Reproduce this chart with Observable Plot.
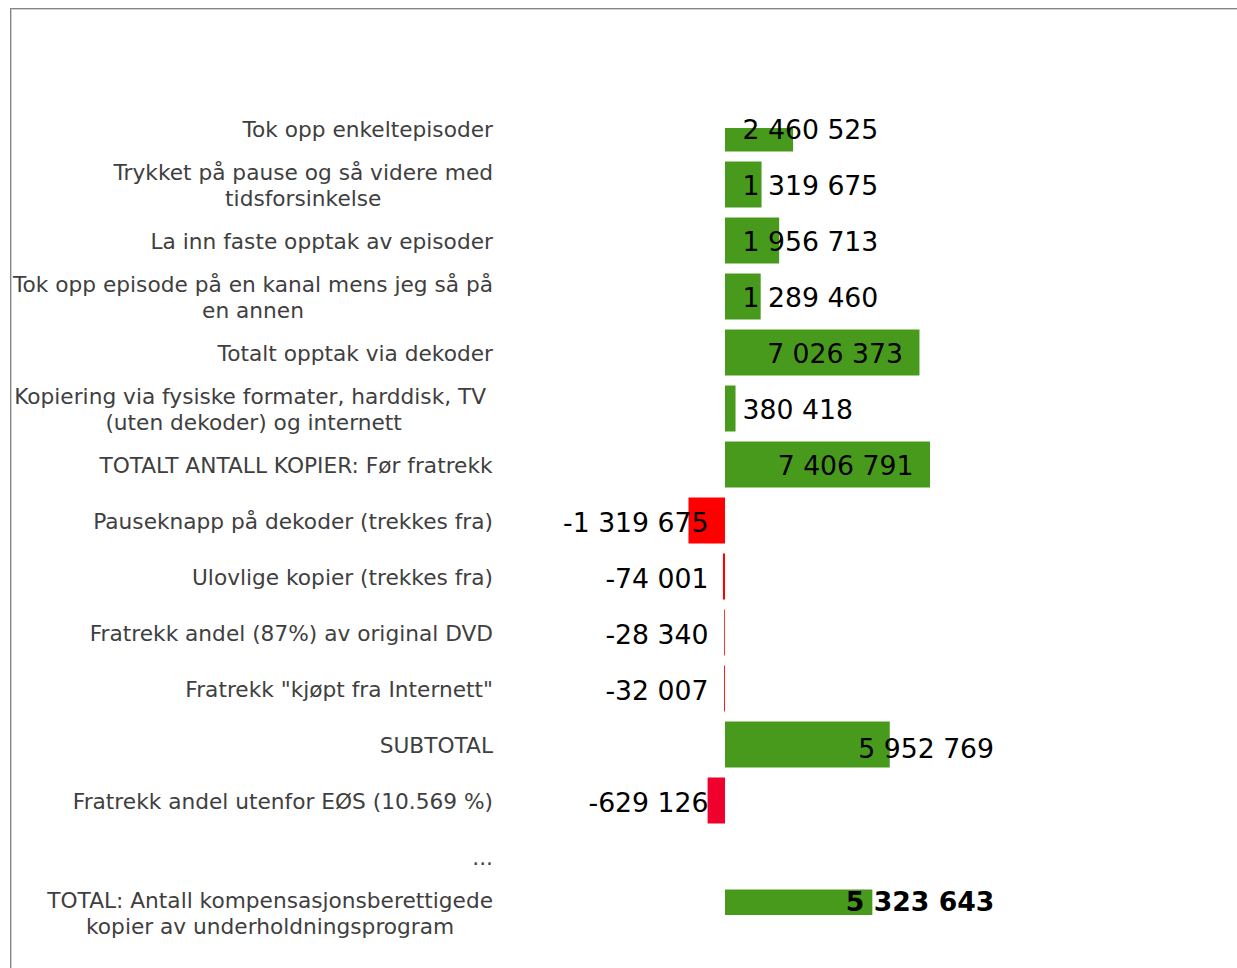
<!DOCTYPE html>
<html>
<head>
<meta charset="utf-8">
<script src="https://cdn.jsdelivr.net/npm/d3@7"></script>
<script src="https://cdn.jsdelivr.net/npm/@observablehq/plot@0.6"></script>
<style>
  html, body { margin: 0; padding: 0; background: #fff; }
  #wrap { position: relative; width: 1237px; height: 968px; overflow: hidden; }
  #frame { position: absolute; left: 10px; top: 8px; width: 1300px; height: 1000px;
           border-top: 1px solid #858585; border-left: 1px solid #858585;
           box-shadow: inset 1px 1px 0 #cfcfcf; }
  #chart { position: absolute; left: 0; top: 0; }
</style>
</head>
<body>
<div id="wrap"><div id="frame"></div><div id="chart"></div></div>
<script>
const categories = [
  "Tok opp enkeltepisoder",
  "Trykket på pause og så videre med\ntidsforsinkelse",
  "La inn faste opptak av episoder",
  "Tok opp episode på en kanal mens jeg så på\nen annen",
  "Totalt opptak via dekoder",
  "Kopiering via fysiske formater, harddisk, TV\u00a0\n(uten dekoder) og internett",
  "TOTALT ANTALL KOPIER: Før fratrekk",
  "Pauseknapp på dekoder (trekkes fra)",
  "Ulovlige kopier (trekkes fra)",
  "Fratrekk andel (87%) av original DVD",
  "Fratrekk \"kjøpt fra Internett\"",
  "SUBTOTAL",
  "Fratrekk andel utenfor EØS (10.569 %)",
  "...",
  "TOTAL: Antall kompensasjonsberettigede\nkopier av underholdningsprogram"
];
const values = [2460525, 1319675, 1956713, 1289460, 7026373, 380418, 7406791,
  -1319675, -74001, -28340, -32007, 5952769, -629126, null, 5323643];
const kinds = ["add", "add", "add", "add", "sum", "add", "sum",
  "deduct", "deduct", "deduct", "deduct", "subtotal", "eea", "gap", "total"];

const colorByKind = {add: "#489a1d", sum: "#489a1d", subtotal: "#489a1d", total: "#489a1d",
                     deduct: "#ff0000", eea: "#f0002c"};

const data = categories.map((label, i) => ({label, value: values[i], kind: kinds[i]}));
const bars = data.filter(d => d.value != null);

const fmt = d3.formatLocale({decimal: ",", thousands: " ", grouping: [3], currency: ["", ""], minus: "-"}).format(",d");

const FONT = "DejaVu Sans, Verdana, sans-serif";
const valueSize = 26.7;
const zero = () => 0;

const plot = Plot.plot({
  width: 1237,
  height: 968,
  marginLeft: 0,
  marginRight: 0,
  marginTop: 128,
  marginBottom: 53,
  style: {fontFamily: FONT, background: "transparent", overflow: "visible"},
  x: {domain: [0, 7406791], range: [725, 930], axis: null},
  y: {domain: categories, range: [95.5, 945.5], padding: 0.1786, round: false, axis: null},
  marks: [
    Plot.barX(bars, {x1: zero, x2: "value", y: "label", fill: d => colorByKind[d.kind], clip: true}),
    Plot.text(data, {
      y: "label", text: "label", frameAnchor: "left", textAnchor: "middle", lineAnchor: "middle",
      lineHeight: 1.2, fontSize: 21.7, fill: "#3f3f3f"
    }),
    Plot.text(bars.filter(d => d.kind === "add"), {
      x: zero, y: "label", text: d => fmt(d.value), textAnchor: "start", dx: 17, dy: 1,
      fontSize: valueSize, fill: "#000"
    }),
    Plot.text(bars.filter(d => d.kind === "sum"), {
      x: "value", y: "label", text: d => fmt(d.value), textAnchor: "end", dx: -17, dy: 1,
      fontSize: valueSize, fill: "#000"
    }),
    Plot.text(bars.filter(d => d.kind === "deduct" || d.kind === "eea"), {
      x: zero, y: "label", text: d => fmt(d.value), textAnchor: "end", dx: -17, dy: 2,
      fontSize: valueSize, fill: "#000"
    }),
    Plot.text(bars.filter(d => d.kind === "subtotal"), {
      x: "value", y: "label", text: d => fmt(d.value), textAnchor: "start", dx: -32, dy: 4,
      fontSize: valueSize, fill: "#000"
    }),
    Plot.text(bars.filter(d => d.kind === "total"), {
      x: "value", y: "label", text: d => fmt(d.value), textAnchor: "start", dx: -27, dy: -11,
      fontSize: valueSize, fontWeight: "bold", fill: "#000"
    })
  ]
});

document.getElementById("chart").appendChild(plot);

// Right-align each (centre-justified) category label block to the label column edge.
const labelRight = 493;
const svgRect = plot.getBoundingClientRect();
const labelGroup = plot.querySelectorAll('g[aria-label="text"]')[0];
if (labelGroup) {
  labelGroup.querySelectorAll("text").forEach(t => {
    const r = t.getBoundingClientRect();
    const shift = labelRight - (r.right - svgRect.left);
    const tr = t.getAttribute("transform") || "";
    t.setAttribute("transform", `translate(${shift},0) ${tr}`);
  });
}
</script>
</body>
</html>
